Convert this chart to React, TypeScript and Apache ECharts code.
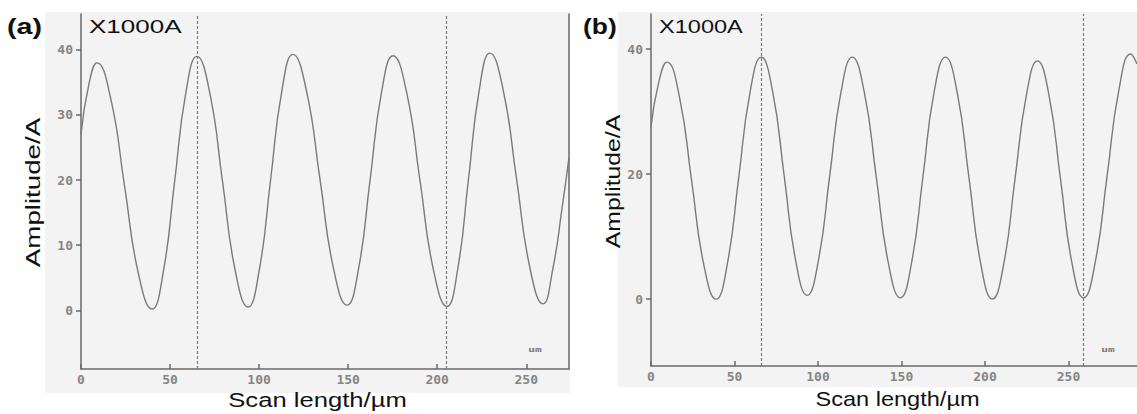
import React, { useEffect, useRef } from "react";
import * as echarts from "echarts";

// Panel (a) profile: scan position (µm) and amplitude (x1000 Å)
const scanA = [0, 4.5, 9.0, 16.7, 24.45, 32.2, 39.9, 46.2, 52.5, 58.8, 65.1, 72.3, 79.45, 86.6, 93.8, 100.1, 106.4, 112.7, 119, 126.6, 134.2, 141.8, 149.4, 155.85, 162.3, 168.75, 175.2, 182.8, 190.35, 197.9, 205.5, 211.5, 217.55, 223.6, 229.6, 237, 244.5, 252, 259.4, 265, 270, 274];
const ampA = [27.0, 34.8, 38.0, 32.5, 19.1, 5.7, 0.2, 5.9, 19.6, 33.3, 39.0, 33.4, 19.8, 6.1, 0.5, 6.2, 19.9, 33.6, 39.3, 33.7, 20.1, 6.4, 0.8, 6.4, 20.0, 33.5, 39.1, 33.5, 19.9, 6.2, 0.6, 6.3, 20.1, 33.8, 39.5, 33.9, 20.3, 6.6, 1.0, 6.5, 15.5, 23.5];

// Panel (b) profile
const scanB = [0, 4.5, 9.6, 17, 24.3, 31.6, 39, 45.75, 52.5, 59.25, 66, 72.9, 79.75, 86.6, 93.5, 100.25, 107, 113.75, 120.5, 127.7, 134.9, 142.1, 149.3, 156, 162.8, 169.5, 176.3, 183.3, 190.4, 197.4, 204.4, 211.2, 217.9, 224.7, 231.4, 238.3, 245.2, 252.1, 259, 266, 273.1, 280.2, 287.2, 291];
const ampB = [27.5, 34.5, 37.9, 32.4, 19.0, 5.5, 0.0, 5.7, 19.4, 33.0, 38.7, 33.1, 19.7, 6.2, 0.6, 6.2, 19.7, 33.1, 38.7, 33.1, 19.5, 5.8, 0.2, 5.8, 19.5, 33.1, 38.7, 33.1, 19.4, 5.7, 0.0, 5.6, 19.1, 32.5, 38.1, 32.6, 19.2, 5.7, 0.2, 5.9, 19.7, 33.5, 39.2, 37.6];

// Tick labels
const xTicks = [0, 50, 100, 150, 200, 250];
const yTicksA = [0, 10, 20, 30, 40];
const yTicksB = [0, 20, 40];

// Dashed cursor positions (µm)
const cursorsA = [65, 205];
const cursorsB = [66, 259];

const panelLabels = ["(a)", "(b)"];
const scaleText = "X1000A";
const yTitle = "Amplitude/A";
const xTitle = "Scan length/µm";
const unitText = "um";

export default function App() {
  const ref = useRef<HTMLDivElement>(null);

  useEffect(() => {
    if (!ref.current) return;
    const chart = echarts.init(ref.current, undefined, { renderer: "svg" });
    const axisColor = "#6a6a6a";
    const curveColor = "#7a7a7a";
    const labelStyle = {
      color: "#858585",
      fontFamily: "DejaVu Sans Mono",
      fontWeight: "bold" as const,
      fontSize: 13,
    };
    const sans = "Liberation Sans, Arial, sans-serif";

    const xAxisCommon = (grid: number, max: number) => ({
      type: "value" as const,
      gridIndex: grid,
      min: 0,
      max,
      axisLine: { show: true, onZero: false, lineStyle: { color: axisColor, width: 1.5 } },
      axisTick: { show: true, inside: true, length: 5, customValues: xTicks, lineStyle: { color: axisColor, width: 1.5 } },
      axisLabel: { ...labelStyle, margin: 4, customValues: xTicks },
      splitLine: { show: false },
    });

    const yAxisCommon = (grid: number, min: number, max: number, ticks: number[]) => ({
      type: "value" as const,
      gridIndex: grid,
      min,
      max,
      axisLine: { show: true, onZero: false, lineStyle: { color: axisColor, width: 1.5 } },
      axisTick: { show: true, inside: false, length: 5, customValues: ticks, lineStyle: { color: axisColor, width: 1.5 } },
      axisLabel: { ...labelStyle, margin: 8, customValues: ticks },
      splitLine: { show: false },
    });

    const cursorLine = (vals: number[]) => ({
      silent: true,
      symbol: ["none", "none"],
      label: { show: false },
      lineStyle: { color: "#7a7a7a", type: [3, 2] as any, width: 1.2 },
      data: vals.map((v) => ({ xAxis: v })),
    });

    const hText = (text: string, x: number, y: number, size: number, sx: number, bold = false, align = "left") => ({
      type: "text",
      x,
      y,
      scaleX: sx,
      style: {
        text,
        fill: "#111111",
        fontFamily: sans,
        fontSize: size,
        fontWeight: bold ? "bold" : "normal",
        align,
        verticalAlign: "middle",
      },
    });

    const vText = (text: string, x: number, y: number, size: number, sx: number) => ({
      type: "text",
      x,
      y,
      rotation: Math.PI / 2,
      scaleX: sx,
      style: {
        text,
        fill: "#111111",
        fontFamily: sans,
        fontSize: size,
        align: "center",
        verticalAlign: "middle",
      },
    });

    const unitLabel = (x: number, y: number) => ({
      type: "text",
      x,
      y,
      scaleX: 1.6,
      style: {
        text: unitText,
        fill: "#777777",
        fontFamily: "DejaVu Sans Mono",
        fontWeight: "bold",
        fontSize: 7,
        align: "center",
        verticalAlign: "middle",
      },
    });

    chart.setOption({
      animation: false,
      backgroundColor: "#ffffff",
      grid: [
        { left: 81, top: 14, width: 488, height: 355 },
        { left: 651, top: 14, width: 486, height: 352 },
      ],
      xAxis: [xAxisCommon(0, 274), xAxisCommon(1, 291)],
      yAxis: [
        yAxisCommon(0, -9, 45.5, yTicksA),
        {
          type: "value",
          gridIndex: 0,
          position: "right",
          min: -9,
          max: 45.5,
          axisLine: { show: true, onZero: false, lineStyle: { color: axisColor, width: 1.5 } },
          axisTick: { show: false },
          axisLabel: { show: false },
          splitLine: { show: false },
        },
        yAxisCommon(1, -10.7, 45.6, yTicksB),
      ],
      series: [
        {
          type: "line",
          xAxisIndex: 0,
          yAxisIndex: 0,
          data: scanA.map((x, i) => [x, ampA[i]]),
          symbol: "none",
          showSymbol: false,
          smooth: true,
          lineStyle: { color: curveColor, width: 1.4 },
          markLine: cursorLine(cursorsA),
        },
        {
          type: "line",
          xAxisIndex: 1,
          yAxisIndex: 2,
          data: scanB.map((x, i) => [x, ampB[i]]),
          symbol: "none",
          showSymbol: false,
          smooth: true,
          lineStyle: { color: curveColor, width: 1.4 },
          markLine: cursorLine(cursorsB),
        },
      ],
      graphic: [
        { type: "rect", z: -10, shape: { x: 45, y: 12, width: 525, height: 381 }, style: { fill: "#f3f3f3" } },
        { type: "rect", z: -10, shape: { x: 618, y: 12, width: 519, height: 375 }, style: { fill: "#f3f3f3" } },
        hText(panelLabels[0], 7, 26, 22, 1.3, true),
        hText(panelLabels[1], 583, 26, 22, 1.2, true),
        hText(scaleText, 89, 26.5, 19, 1.37),
        hText(scaleText, 659, 26.5, 19, 1.24),
        vText(yTitle, 33, 192.5, 21, 1.32),
        vText(yTitle, 613, 181.5, 21, 1.18),
        hText(xTitle, 317.5, 400, 20.5, 1.25, false, "center"),
        hText(xTitle, 897.5, 399.5, 20.5, 1.15, false, "center"),
        unitLabel(535, 349),
        unitLabel(1108, 349),
      ],
    });
    return () => chart.dispose();
  }, []);

  return (
    <div
      ref={ref}
      style={{ position: "fixed", left: 0, top: 0, width: 1137, height: 414, background: "#fff" }}
    />
  );
}
